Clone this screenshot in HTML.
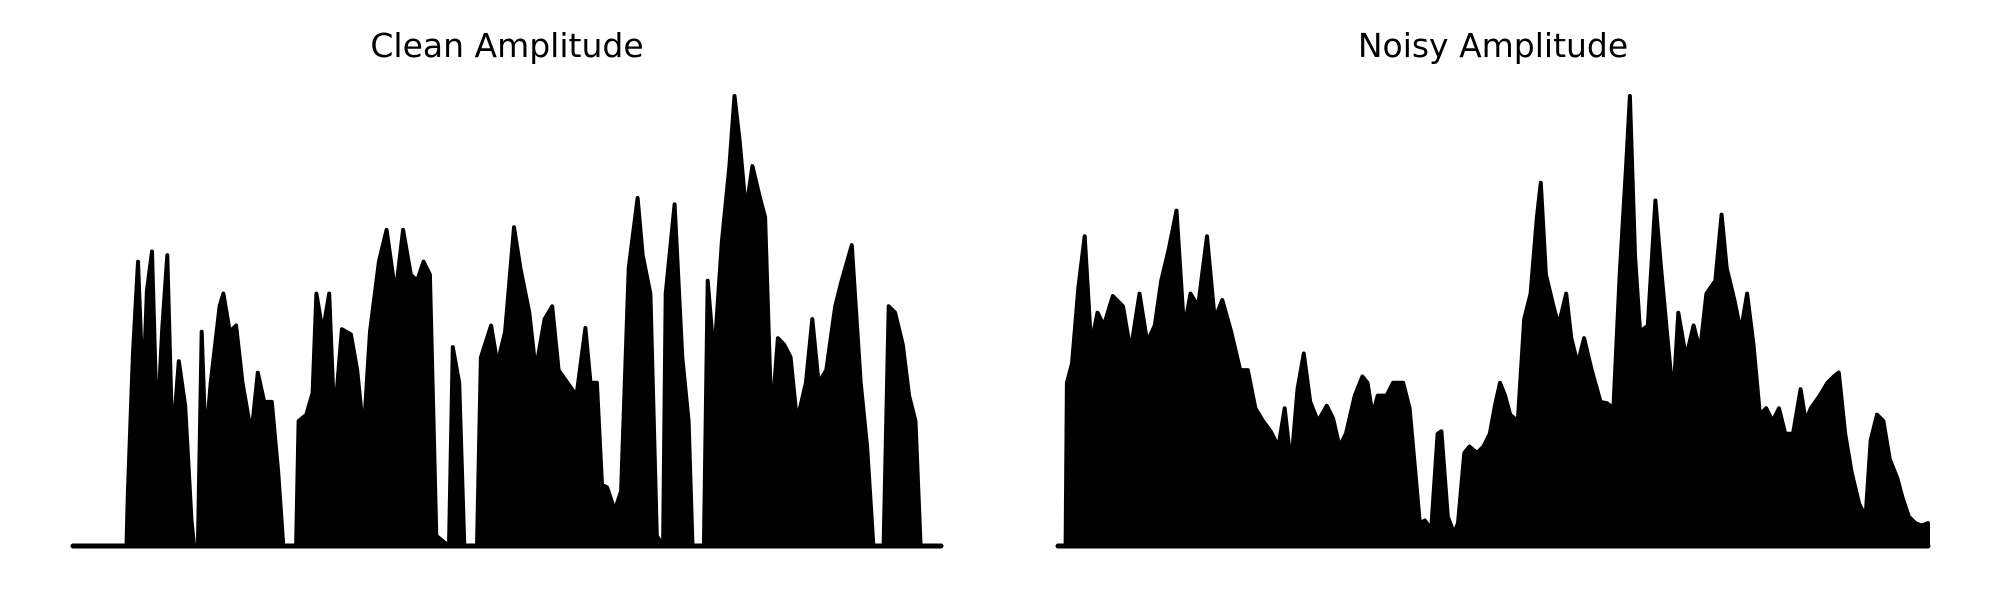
<!DOCTYPE html>
<html><head><meta charset="utf-8"><style>
html,body{margin:0;padding:0;background:#fff;}
svg{display:block;}
text{font-family:"DejaVu Sans","Liberation Sans",sans-serif;}
</style></head><body>
<svg id="chart" width="2000" height="600" viewBox="0 0 2000 600" xmlns="http://www.w3.org/2000/svg">
<text x="507" y="57" font-size="33" text-anchor="middle" fill="#000">Clean Amplitude</text>
<text x="1493" y="57" font-size="33" text-anchor="middle" fill="#000">Noisy Amplitude</text>
<g id="clean"></g>
<g id="noisy"></g>
</svg>
<script>
const cleanFrames=[0,42,43,47,51,55,58,62,66,70,74,78,83,88,93,95,98,101,104,108,115,118,123,128,133,140,145,150,156,161,165,175,177,183,188,191,196,201,205,211,218,223,228,233,240,246,253,259,265,270,275,280,285,295,298,303,307,317,320,328,333,339,346,351,358,363,370,376,381,388,395,402,406,411,415,419,425,430,436,443,447,453,458,463,465,472,478,483,486,495,498,503,509,515,519,523,528,533,539,543,548,553,558,563,568,575,580,585,591,598,603,611,618,623,628,636,640,645,651,656,661,665,681];
const cleanAmp=[0,0,40,150,223,120,200,231,90,170,228,80,145,110,20,0,0,168,80,128,188,198,168,173,128,88,136,113,113,58,0,0,98,103,120,198,168,198,98,170,166,138,88,168,223,248,198,248,213,208,223,213,8,0,156,128,0,0,148,173,143,168,250,218,183,138,178,188,138,128,118,171,128,128,48,46,28,43,218,273,228,198,8,0,198,268,148,98,0,0,208,148,238,298,353,318,263,298,273,258,98,163,158,148,98,128,178,128,138,188,208,236,128,78,0,0,188,183,158,118,98,0,0];
const noisyFrames=[0,6,7,11,16,21,26,31,36,43,51,57,64,70,76,81,87,93,99,104,110,117,123,129,136,143,149,155,161,167,173,178,183,188,193,198,204,211,216,221,226,233,239,243,247,251,258,263,271,276,281,284,288,293,298,301,306,311,314,319,323,329,334,339,343,347,351,355,361,366,371,376,379,383,389,393,399,403,408,413,419,426,431,436,441,446,449,453,457,463,469,473,478,483,487,493,499,504,509,516,521,525,531,536,541,546,551,556,561,566,571,577,583,587,591,598,604,609,613,618,623,629,634,638,643,648,653,659,663,668,673,678,683];
const noisyAmp=[0,0,128,143,203,243,158,183,173,196,188,153,198,160,173,208,233,263,170,198,188,243,178,193,168,138,138,108,98,90,78,108,63,123,151,113,98,110,100,78,88,118,133,128,103,118,118,128,128,108,53,18,20,13,88,90,23,10,18,73,78,73,78,88,110,128,118,103,98,178,198,258,285,213,188,173,198,163,143,163,138,113,112,108,213,298,353,228,168,173,271,223,168,116,183,148,173,153,198,208,260,218,193,168,198,158,103,108,98,108,88,88,123,98,108,118,128,133,136,88,58,33,23,83,103,98,68,53,38,23,18,16,18];
const ampMax=353;

function draw(gid,frames,amp,fMax,x0,x1,name){
  const g=document.getElementById(gid);
  const yBase=546,yTop=96;
  const xs=f=>x0+(f/fMax)*(x1-x0);
  const ys=a=>yBase-(a/ampMax)*(yBase-yTop);
  let pts=[xs(frames[0])+','+yBase];
  for(let i=0;i<frames.length;i++) pts.push(xs(frames[i]).toFixed(1)+','+ys(amp[i]).toFixed(1));
  pts.push(xs(frames[frames.length-1])+','+yBase);
  const p=document.createElementNS('http://www.w3.org/2000/svg','polygon');
  
  
  p.setAttribute('points',pts.join(' '));
  p.setAttribute('fill','#000');p.setAttribute('stroke','#000');
  p.setAttribute('stroke-width','4');p.setAttribute('stroke-linejoin','round');
  g.appendChild(p);
  const l=document.createElementNS('http://www.w3.org/2000/svg','line');
  
  
  l.setAttribute('x1',x0);l.setAttribute('x2',x1);
  l.setAttribute('y1',yBase);l.setAttribute('y2',yBase);
  l.setAttribute('stroke','#000');l.setAttribute('stroke-width','5');l.setAttribute('stroke-linecap','round');
  g.appendChild(l);
}
draw('clean',cleanFrames,cleanAmp,681,73,941,'clean');
draw('noisy',noisyFrames,noisyAmp,683,1058,1928,'noisy');
</script>
</body></html>
